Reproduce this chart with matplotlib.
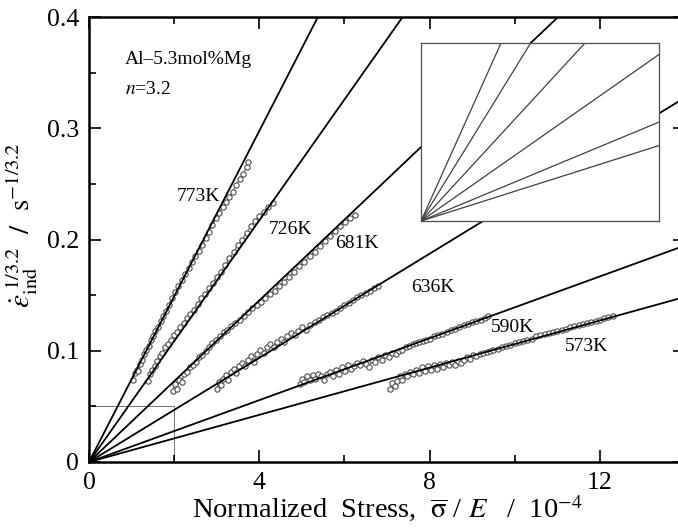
import numpy as np
import matplotlib
matplotlib.use("Agg")
import matplotlib.pyplot as plt

plt.rcParams['font.family'] = ['Liberation Serif', 'DejaVu Serif']
plt.rcParams['mathtext.fontset'] = 'stix'

# temperatures and slopes of the fitted lines (through the origin)
temps = ['773K', '726K', '681K', '636K', '590K', '573K']
slopes = [0.0744, 0.0543, 0.0363, 0.0234, 0.0139, 0.0106]
label_x = [2.58, 4.74, 6.29, 8.08, 9.95, 11.69]
label_y = [0.239, 0.209, 0.196, 0.157, 0.121, 0.104]

x773 = [1.04, 1.08, 1.12, 1.16, 1.20, 1.25, 1.30, 1.35, 1.40, 1.45, 1.50, 1.56, 1.62, 1.68, 1.74,
        1.80, 1.87, 1.94, 2.02, 2.10, 2.18, 2.26, 2.34, 2.42, 2.50, 2.58, 2.66, 2.74, 2.82, 2.90,
        2.98, 3.06, 3.14, 3.22, 3.30, 3.38, 3.46, 3.54, 3.62, 3.70, 3.74]
y773 = [0.074, 0.080, 0.083, 0.082, 0.088, 0.092, 0.097, 0.101, 0.104, 0.110, 0.113, 0.118, 0.121,
        0.127, 0.131, 0.136, 0.141, 0.147, 0.153, 0.158, 0.164, 0.169, 0.174, 0.180, 0.185, 0.190,
        0.195, 0.201, 0.207, 0.213, 0.219, 0.224, 0.229, 0.234, 0.238, 0.243, 0.249, 0.254, 0.259,
        0.265, 0.270]

x726 = [1.39, 1.44, 1.49, 1.54, 1.60, 1.66, 1.72, 1.78, 1.85, 1.92, 1.99, 2.06, 2.14, 2.22, 2.30,
        2.38, 2.46, 2.55, 2.64, 2.73, 2.82, 2.91, 3.00, 3.10, 3.20, 3.30, 3.40, 3.50, 3.60, 3.70,
        3.80, 3.90, 4.00, 4.10, 4.20, 4.32]
y726 = [0.073, 0.079, 0.083, 0.086, 0.091, 0.095, 0.098, 0.103, 0.106, 0.110, 0.114, 0.117, 0.121,
        0.125, 0.129, 0.133, 0.137, 0.142, 0.147, 0.151, 0.156, 0.161, 0.166, 0.171, 0.177, 0.183,
        0.189, 0.195, 0.200, 0.206, 0.212, 0.217, 0.221, 0.225, 0.229, 0.233]

x681 = [1.97, 2.02, 2.07, 2.12, 2.18, 2.24, 2.30, 2.37, 2.44, 2.51, 2.58, 2.66, 2.74, 2.82, 2.90,
        2.98, 3.07, 3.16, 3.25, 3.34, 3.44, 3.54, 3.64, 3.74, 3.84, 3.94, 4.04, 4.14, 4.25, 4.36,
        4.47, 4.58, 4.70, 4.82, 4.94, 5.06, 5.18, 5.30, 5.42, 5.54, 5.66, 5.78, 5.90, 6.02, 6.13,
        6.24]
y681 = [0.064, 0.070, 0.066, 0.074, 0.072, 0.079, 0.081, 0.085, 0.087, 0.090, 0.094, 0.096, 0.100,
        0.103, 0.107, 0.110, 0.113, 0.117, 0.119, 0.122, 0.125, 0.128, 0.131, 0.135, 0.138, 0.141,
        0.144, 0.147, 0.151, 0.154, 0.158, 0.162, 0.166, 0.171, 0.176, 0.180, 0.185, 0.189, 0.194,
        0.199, 0.203, 0.208, 0.212, 0.216, 0.219, 0.222]

x636 = [3.00, 3.05, 3.10, 3.15, 3.21, 3.27, 3.33, 3.40, 3.46, 3.53, 3.60, 3.67, 3.74, 3.81, 3.88,
        3.95, 4.02, 4.10, 4.18, 4.26, 4.34, 4.42, 4.50, 4.58, 4.66, 4.74, 4.83, 4.92, 5.01, 5.10,
        5.20, 5.30, 5.40, 5.50, 5.60, 5.70, 5.80, 5.90, 6.00, 6.10, 6.20, 6.30, 6.40, 6.50, 6.60,
        6.70, 6.80]
y636 = [0.066, 0.072, 0.069, 0.075, 0.078, 0.074, 0.081, 0.084, 0.080, 0.086, 0.089, 0.086, 0.092,
        0.095, 0.090, 0.097, 0.101, 0.098, 0.103, 0.106, 0.103, 0.108, 0.111, 0.108, 0.113, 0.116,
        0.114, 0.118, 0.121, 0.119, 0.123, 0.126, 0.128, 0.130, 0.132, 0.134, 0.136, 0.138, 0.141,
        0.143, 0.146, 0.148, 0.150, 0.152, 0.154, 0.156, 0.158]

x590 = [4.95, 5.00, 5.06, 5.12, 5.18, 5.25, 5.32, 5.39, 5.46, 5.53, 5.60, 5.67, 5.74, 5.81, 5.88,
        5.95, 6.02, 6.09, 6.16, 6.23, 6.30, 6.37, 6.44, 6.51, 6.58, 6.65, 6.72, 6.80, 6.88, 6.96,
        7.04, 7.12, 7.20, 7.28, 7.36, 7.44, 7.52, 7.60, 7.68, 7.76, 7.84, 7.92, 8.00, 8.10, 8.20,
        8.30, 8.40, 8.50, 8.60, 8.70, 8.80, 8.90, 9.00, 9.10, 9.20, 9.30, 9.37]
y590 = [0.070, 0.075, 0.072, 0.077, 0.074, 0.078, 0.075, 0.079, 0.077, 0.074, 0.079, 0.081, 0.077,
        0.083, 0.079, 0.085, 0.082, 0.087, 0.084, 0.086, 0.089, 0.087, 0.091, 0.088, 0.085, 0.092,
        0.090, 0.094, 0.092, 0.096, 0.094, 0.098, 0.097, 0.100, 0.101, 0.103, 0.104, 0.106, 0.107,
        0.108, 0.109, 0.110, 0.111, 0.113, 0.114, 0.115, 0.117, 0.119, 0.120, 0.121, 0.123, 0.124,
        0.126, 0.127, 0.128, 0.129, 0.131]

x573 = [7.07, 7.12, 7.18, 7.24, 7.30, 7.36, 7.42, 7.48, 7.55, 7.62, 7.69, 7.76, 7.83, 7.90, 7.97,
        8.04, 8.11, 8.18, 8.25, 8.32, 8.39, 8.46, 8.53, 8.60, 8.67, 8.74, 8.81, 8.88, 8.95, 9.02,
        9.10, 9.18, 9.26, 9.34, 9.42, 9.50, 9.60, 9.70, 9.80, 9.90, 10.00, 10.10, 10.20, 10.30,
        10.40, 10.50, 10.60, 10.70, 10.80, 10.90, 11.00, 11.10, 11.20, 11.30, 11.40, 11.50, 11.60,
        11.70, 11.80, 11.90, 12.00, 12.10, 12.20, 12.31]
y573 = [0.066, 0.071, 0.068, 0.073, 0.077, 0.074, 0.079, 0.077, 0.081, 0.079, 0.083, 0.080, 0.085,
        0.082, 0.086, 0.083, 0.087, 0.084, 0.088, 0.085, 0.089, 0.087, 0.090, 0.087, 0.091, 0.089,
        0.092, 0.094, 0.093, 0.096, 0.095, 0.097, 0.098, 0.099, 0.100, 0.101, 0.102, 0.103, 0.104,
        0.105, 0.107, 0.108, 0.109, 0.110, 0.111, 0.113, 0.114, 0.115, 0.116, 0.117, 0.118, 0.119,
        0.120, 0.121, 0.122, 0.123, 0.124, 0.125, 0.126, 0.127, 0.128, 0.129, 0.130, 0.131]

data_x = [x773, x726, x681, x636, x590, x573]
data_y = [y773, y726, y681, y636, y590, y573]

fig = plt.figure(figsize=(6.78, 5.28), dpi=100)
ax = fig.add_axes([0.1313, 0.125, 0.879, 0.8428])

xfit = np.array([0, 14])
for i in range(len(temps)):
    ax.plot(data_x[i], data_y[i], '-', color='0.45', lw=0.9, zorder=2)
    ax.plot(data_x[i], data_y[i], 'o', ms=3.8, mfc='white', mec='0.3', mew=0.8, zorder=2)
    ax.plot(xfit, slopes[i] * xfit, 'k-', lw=1.3, zorder=3)
    ax.text(label_x[i], label_y[i], temps[i], fontsize=14, ha='center', va='center', zorder=5)

# small box marking the magnified region
ax.plot([0, 2, 2], [0.05, 0.05, 0], color='0.45', lw=0.7, zorder=1)

ax.text(0.85, 0.362, 'Al\u20135.3mol%Mg', fontsize=14, va='center')
ax.text(0.85, 0.335, r'$n$=3.2', fontsize=14, va='center')

ax.set_xlim(0, 14)
ax.set_ylim(0, 0.4)
ax.set_xticks([0, 4, 8, 12])
ax.set_xticks([2, 6, 10], minor=True)
ax.set_yticks([0, 0.1, 0.2, 0.3, 0.4])
ax.set_yticklabels(['0', '0.1', '0.2', '0.3', '0.4'])
ax.set_yticks([0.05, 0.15, 0.25, 0.35], minor=True)
ax.tick_params(which='both', direction='in', top=True, right=True, labelsize=18.5, width=1.2)
ax.tick_params(which='major', length=8.5, pad=7)
ax.tick_params(which='minor', length=5)
for s in ax.spines.values():
    s.set_linewidth(1.8)

ax.set_xlabel(r'Normalized  Stress,  $\overline{\mathrm{\sigma}}$ / $E$   /  10$^{-4}$', fontsize=20.5, labelpad=0)
fig.text(22 / 678, 1 - 225 / 528,
         r'$\dot{\varepsilon}_{\mathrm{ind}}^{\ 1/3.2}\ \ /\ \ \mathrm{s}^{-1/3.2}$',
         fontsize=21, rotation=90, ha='center', va='center')

# inset: magnified view of the origin region
axin = fig.add_axes([0.621, 0.5814, 0.351, 0.337])
for i in range(len(temps)):
    axin.plot(xfit, slopes[i] * xfit, color='0.25', lw=0.9)
axin.set_xlim(0, 2)
axin.set_ylim(0, 0.05)
axin.set_xticks([])
axin.set_yticks([])
for s in axin.spines.values():
    s.set_linewidth(0.9)
    s.set_color('0.3')

fig.savefig('out.png', dpi=100)
